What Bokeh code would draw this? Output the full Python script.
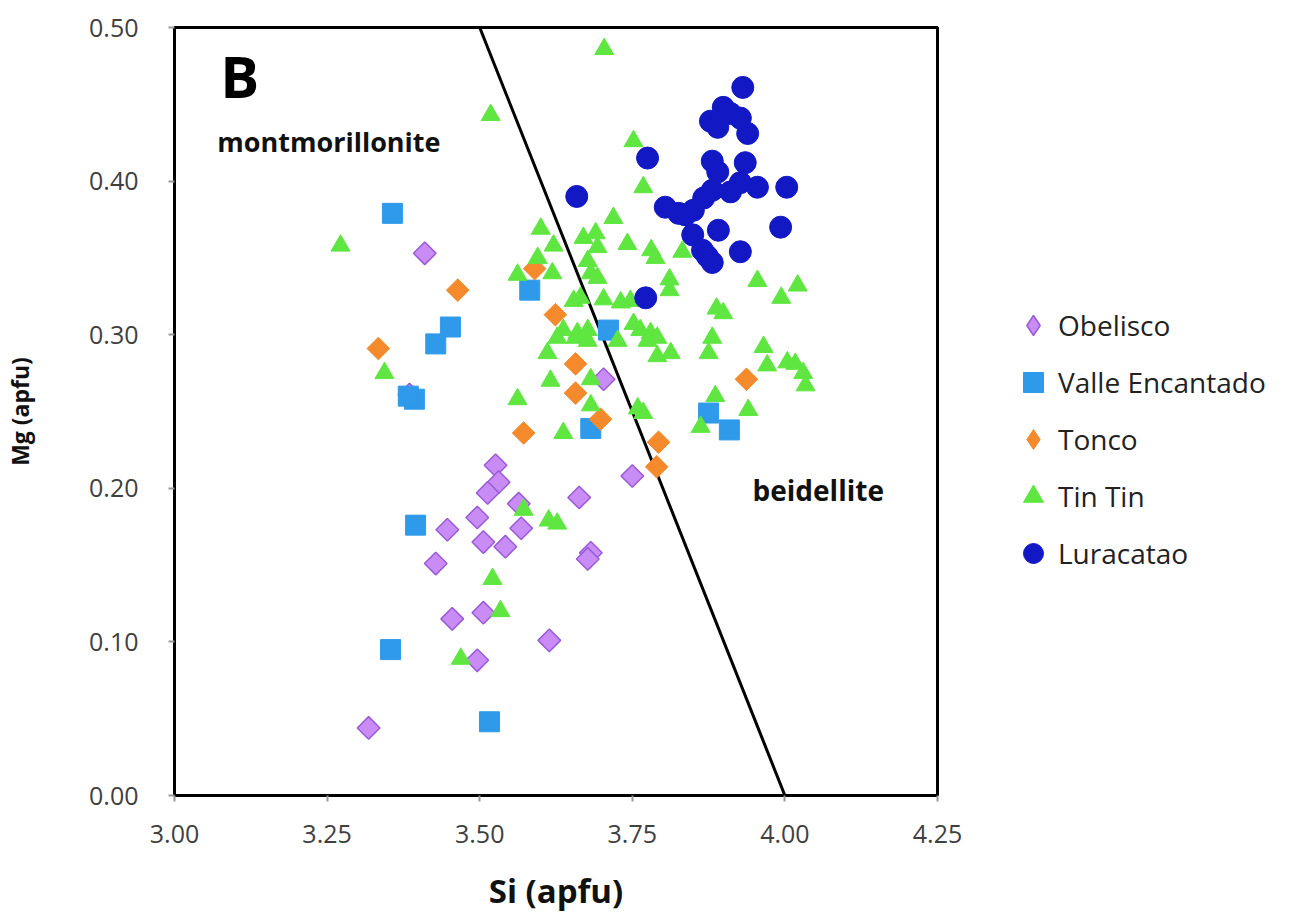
import math
from bokeh.plotting import figure
from bokeh.models import Range1d, FixedTicker, NumeralTickFormatter, Legend, LegendItem, Label
from bokeh.embed import file_html
from bokeh.resources import INLINE

# ---------------- data ----------------
obelisco_si = [3.410, 3.703, 3.526, 3.531, 3.513, 3.564, 3.496, 3.447, 3.568, 3.506, 3.542,
               3.663, 3.750, 3.682, 3.677, 3.428, 3.455, 3.506, 3.614, 3.496, 3.318, 3.385]
obelisco_mg = [0.353, 0.271, 0.215, 0.204, 0.197, 0.190, 0.181, 0.173, 0.174, 0.165, 0.162,
               0.194, 0.208, 0.158, 0.154, 0.151, 0.115, 0.119, 0.101, 0.088, 0.044, 0.261]

valle_si = [3.357, 3.582, 3.452, 3.428, 3.393, 3.383, 3.711, 3.682, 3.875, 3.909, 3.395, 3.354, 3.516]
valle_mg = [0.379, 0.329, 0.305, 0.294, 0.258, 0.260, 0.303, 0.239, 0.249, 0.238, 0.176, 0.095, 0.048]

tonco_si = [3.464, 3.334, 3.590, 3.624, 3.657, 3.657, 3.572, 3.698, 3.793, 3.790, 3.937]
tonco_mg = [0.329, 0.291, 0.343, 0.313, 0.281, 0.262, 0.236, 0.245, 0.230, 0.214, 0.271]

tintin_si = [3.704, 3.518, 3.272, 3.344, 3.752, 3.768, 3.719, 3.600, 3.621, 3.670, 3.690,
             3.693, 3.742, 3.781, 3.788, 3.832, 3.562, 3.595, 3.619, 3.677, 3.682, 3.693,
             3.811, 3.811, 3.654, 3.665, 3.703, 3.731, 3.747, 3.637, 3.660, 3.677, 3.763,
             3.780, 3.955, 3.994, 4.021, 3.888, 3.899, 3.752, 3.791, 3.813, 3.791, 3.881,
             3.875, 3.965, 3.971, 4.004, 4.017, 4.030, 4.034, 3.886, 3.940, 3.862, 3.768,
             3.627, 3.657, 3.677, 3.611, 3.726, 3.775, 3.616, 3.682, 3.562, 3.682, 3.637,
             3.759, 3.572, 3.613, 3.627, 3.521, 3.534, 3.469]
tintin_mg = [0.486, 0.443, 0.358, 0.275, 0.426, 0.396, 0.376, 0.369, 0.358, 0.363, 0.366,
             0.357, 0.359, 0.355, 0.350, 0.354, 0.339, 0.350, 0.340, 0.348, 0.340, 0.337,
             0.336, 0.329, 0.322, 0.324, 0.323, 0.321, 0.322, 0.303, 0.301, 0.303, 0.303,
             0.301, 0.335, 0.324, 0.332, 0.317, 0.314, 0.307, 0.298, 0.288, 0.286, 0.298,
             0.288, 0.292, 0.280, 0.282, 0.281, 0.275, 0.267, 0.260, 0.251, 0.240, 0.249,
             0.298, 0.298, 0.296, 0.288, 0.296, 0.296, 0.270, 0.271, 0.258, 0.254, 0.236,
             0.252, 0.186, 0.179, 0.177, 0.141, 0.120, 0.089]

lura_si = [3.931, 3.899, 3.878, 3.890, 3.911, 3.927, 3.939, 3.881, 3.890, 3.935, 3.955,
           4.003, 3.927, 3.911, 3.881, 3.867, 3.850, 3.804, 3.826, 3.849, 3.891, 3.993,
           3.865, 3.881, 3.927, 3.775, 3.659, 3.772, 3.837, 3.873]
lura_mg = [0.461, 0.448, 0.439, 0.435, 0.444, 0.441, 0.431, 0.413, 0.406, 0.412, 0.396,
           0.396, 0.399, 0.393, 0.394, 0.389, 0.381, 0.383, 0.379, 0.365, 0.368, 0.370,
           0.355, 0.347, 0.354, 0.415, 0.390, 0.324, 0.378, 0.351]

boundary_si = [3.50, 4.00]
boundary_mg = [0.50, 0.00]

x_ticks = [3.00, 3.25, 3.50, 3.75, 4.00, 4.25]
y_ticks = [0.00, 0.10, 0.20, 0.30, 0.40, 0.50]

FONT = "Open Sans"

OB_FILL, OB_LINE = "#C98CF5", "#9A5BD6"
VA_COL = "#2F9AEA"
TO_COL = "#F48A2C"
TI_COL = "#5FE640"
LU_COL = "#1219C4"

p = figure(frame_width=763, frame_height=768,
           min_border_left=174, min_border_right=356, min_border_top=27, min_border_bottom=121,
           x_range=Range1d(3.0, 4.25), y_range=Range1d(0.0, 0.5),
           output_backend="svg", toolbar_location=None)

p.grid.visible = False
p.outline_line_color = "black"
p.outline_line_width = 3
p.background_fill_color = "white"
p.border_fill_color = "white"

for ax in (p.xaxis[0], p.yaxis[0]):
    ax.axis_line_color = "black"
    ax.axis_line_width = 3
    ax.major_tick_line_color = "#999999"
    ax.major_tick_line_width = 2
    ax.major_tick_out = 6
    ax.major_tick_in = 0
    ax.minor_tick_line_color = None
    ax.major_label_text_font = FONT
    ax.major_label_text_font_size = "25px"
    ax.major_label_text_color = "#404040"
    ax.formatter = NumeralTickFormatter(format="0.00")
    ax.axis_label_text_font = FONT
    ax.axis_label_text_font_style = "bold"
    ax.axis_label_text_color = "#111111"

p.xaxis.ticker = FixedTicker(ticks=x_ticks)
p.yaxis.ticker = FixedTicker(ticks=y_ticks)
p.xaxis.axis_label = "Si (apfu)"
p.yaxis.axis_label = "Mg (apfu)"
p.xaxis.axis_label_text_font_size = "33px"
p.yaxis.axis_label_text_font_size = "23px"
p.xaxis.major_label_standoff = 23
p.yaxis.major_label_standoff = 30
p.xaxis.axis_label_standoff = 22
p.yaxis.axis_label_standoff = 50

p.line(boundary_si, boundary_mg, line_color="black", line_width=3)

# diamond-marker copies drawn first (hidden beneath the rotated squares); they give the legend its diamond symbols
leg_ob = p.scatter(obelisco_si, obelisco_mg, marker="diamond", size=14,
                   fill_color=OB_FILL, line_color=OB_LINE, line_width=1.5)
leg_to = p.scatter(tonco_si, tonco_mg, marker="diamond", size=14,
                   fill_color=TO_COL, line_color=TO_COL, line_width=1)

r_ob = p.scatter(obelisco_si, obelisco_mg, marker="square", angle=math.pi / 4, size=16,
                 fill_color=OB_FILL, line_color=OB_LINE, line_width=1.5)
r_va = p.scatter(valle_si, valle_mg, marker="square", size=20,
                 fill_color=VA_COL, line_color=VA_COL, line_width=1)
r_to = p.scatter(tonco_si, tonco_mg, marker="square", angle=math.pi / 4, size=16,
                 fill_color=TO_COL, line_color=TO_COL, line_width=1)
r_ti = p.scatter(tintin_si, tintin_mg, marker="triangle", size=19,
                 fill_color=TI_COL, line_color=TI_COL, line_width=1)
r_lu = p.scatter(lura_si, lura_mg, marker="circle", size=22,
                 fill_color=LU_COL, line_color=LU_COL, line_width=1)

p.add_layout(Label(x=3.075, y=0.469, text="B", text_font=FONT, text_font_style="bold",
                   text_font_size="58px", text_baseline="middle", text_color="black"))
p.add_layout(Label(x=3.070, y=0.426, text="montmorillonite", text_font=FONT,
                   text_font_style="bold", text_font_size="27px", text_baseline="middle",
                   text_color="#111111"))
p.add_layout(Label(x=3.947, y=0.199, text="beidellite", text_font=FONT,
                   text_font_style="bold", text_font_size="28px", text_baseline="middle",
                   text_color="#111111"))

legend = Legend(items=[
    LegendItem(label="Obelisco", renderers=[leg_ob]),
    LegendItem(label="Valle Encantado", renderers=[r_va]),
    LegendItem(label="Tonco", renderers=[leg_to]),
    LegendItem(label="Tin Tin", renderers=[r_ti]),
    LegendItem(label="Luracatao", renderers=[r_lu]),
], location=(71, 217))
legend.label_text_font = FONT
legend.label_text_font_size = "28px"
legend.label_text_color = "#222222"
legend.glyph_width = 50
legend.glyph_height = 50
legend.label_height = 50
legend.label_standoff = 0
legend.spacing = 7
legend.padding = 0
legend.margin = 0
legend.border_line_color = None
legend.background_fill_alpha = 0
p.add_layout(legend, "right")

open("out.html", "w").write(file_html(p, INLINE))
